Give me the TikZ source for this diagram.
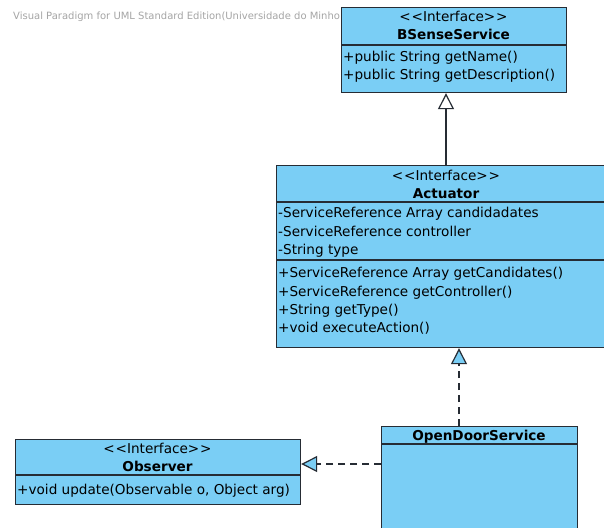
\documentclass[tikz,border=0pt]{standalone}
\usepackage{fontspec}
\setmainfont{DejaVu Sans}[Ligatures=NoCommon]
\usetikzlibrary{arrows.meta}
\definecolor{umlfill}{RGB}{122,206,245}
\definecolor{umlline}{RGB}{38,44,52}
\definecolor{wmgray}{RGB}{165,165,165}
\newcommand{\stereotxt}{{<}\kern0.8pt{<}Interface{>}\kern0.8pt{>}}
\begin{document}
\begin{tikzpicture}[x=1pt,y=-1pt,
  classbox/.style={draw=umlline, fill=umlfill, line width=1.2pt, anchor=north west, inner sep=0pt},
  divider/.style={draw=umlline, line width=1.2pt},
  stereo/.style={font=\fontsize{13.6}{16}\selectfont, inner sep=0pt, anchor=base},
  cname/.style={font=\fontsize{13.6}{16}\selectfont\bfseries, inner sep=0pt, anchor=base},
  member/.style={font=\fontsize{13.6}{16}\selectfont, inner sep=0pt, anchor=base west},
  genline/.style={draw=umlline, line width=1.2pt, -{Triangle[width=16pt,length=16pt,fill=white,line width=1.2pt]}},
  realline/.style={draw=umlline, line width=1.2pt, dash pattern=on 7pt off 5pt,
    -{Triangle[width=16pt,length=16pt,fill=umlfill,line width=1.2pt]}},
  watermark/.style={font=\fontsize{10}{12}\selectfont, text=wmgray, inner sep=0pt, anchor=base west}]
\useasboundingbox (0,0) rectangle (604,527);
\clip (0,0) rectangle (604,527);
\fill[white] (0,0) rectangle (604,527);

% editor watermark, its end covered by the first class box
\node[watermark] (wm) at (13,20) {Visual Paradigm for UML Standard Edition(Universidade do Minho};

% BSenseService
\node[classbox, minimum width=225pt, minimum height=85pt] (bsense) at (341,7) {};
\draw[divider] (341,45) -- (566,45);
\node[stereo] (bsSt) at (453.5,22) {\stereotxt};
\node[cname] (bsNm) at (453.5,40) {BSenseService};
\node[member] (bsM1) at (343,61) {+public String getName()};
\node[member] (bsM2) at (343,79) {+public String getDescription()};

% Actuator
\node[classbox, minimum width=340pt, minimum height=182pt] (act) at (276,165) {};
\draw[divider] (276,202) -- (616,202);
\draw[divider] (276,260) -- (616,260);
\node[stereo] (acSt) at (446,180) {\stereotxt};
\node[cname] (acNm) at (446,198) {Actuator};
\node[member] (acA1) at (278,217) {-ServiceReference Array candidadates};
\node[member] (acA2) at (278,236) {-ServiceReference controller};
\node[member] (acA3) at (278,254) {-String type};
\node[member] (acO1) at (278,277) {+ServiceReference Array getCandidates()};
\node[member] (acO2) at (278,296) {+ServiceReference getController()};
\node[member] (acO3) at (278,314) {+String getType()};
\node[member] (acO4) at (278,332) {+void executeAction()};

% Observer
\node[classbox, minimum width=285pt, minimum height=65pt] (obs) at (15,439) {};
\draw[divider] (15,475) -- (300,475);
\node[stereo] (obSt) at (157.5,453) {\stereotxt};
\node[cname] (obNm) at (157.5,471) {Observer};
\node[member] (obM1) at (17,494) {+void update(Observable o, Object arg)};

% OpenDoorService
\node[classbox, minimum width=196pt, minimum height=130pt] (ods) at (381,426) {};
\draw[divider] (381,444) -- (577,444);
\node[cname] (odNm) at (479,440) {OpenDoorService};

% relationships
\draw[genline] ([xshift=170pt]act.north west) -- ([xshift=105pt]bsense.south west);
\draw[realline] ([xshift=78pt]ods.north west) -- ([xshift=183pt]act.south west);
\draw[realline] ([yshift=-38pt]ods.north west) -- ([yshift=-25pt]obs.north east);
\end{tikzpicture}
\end{document}
